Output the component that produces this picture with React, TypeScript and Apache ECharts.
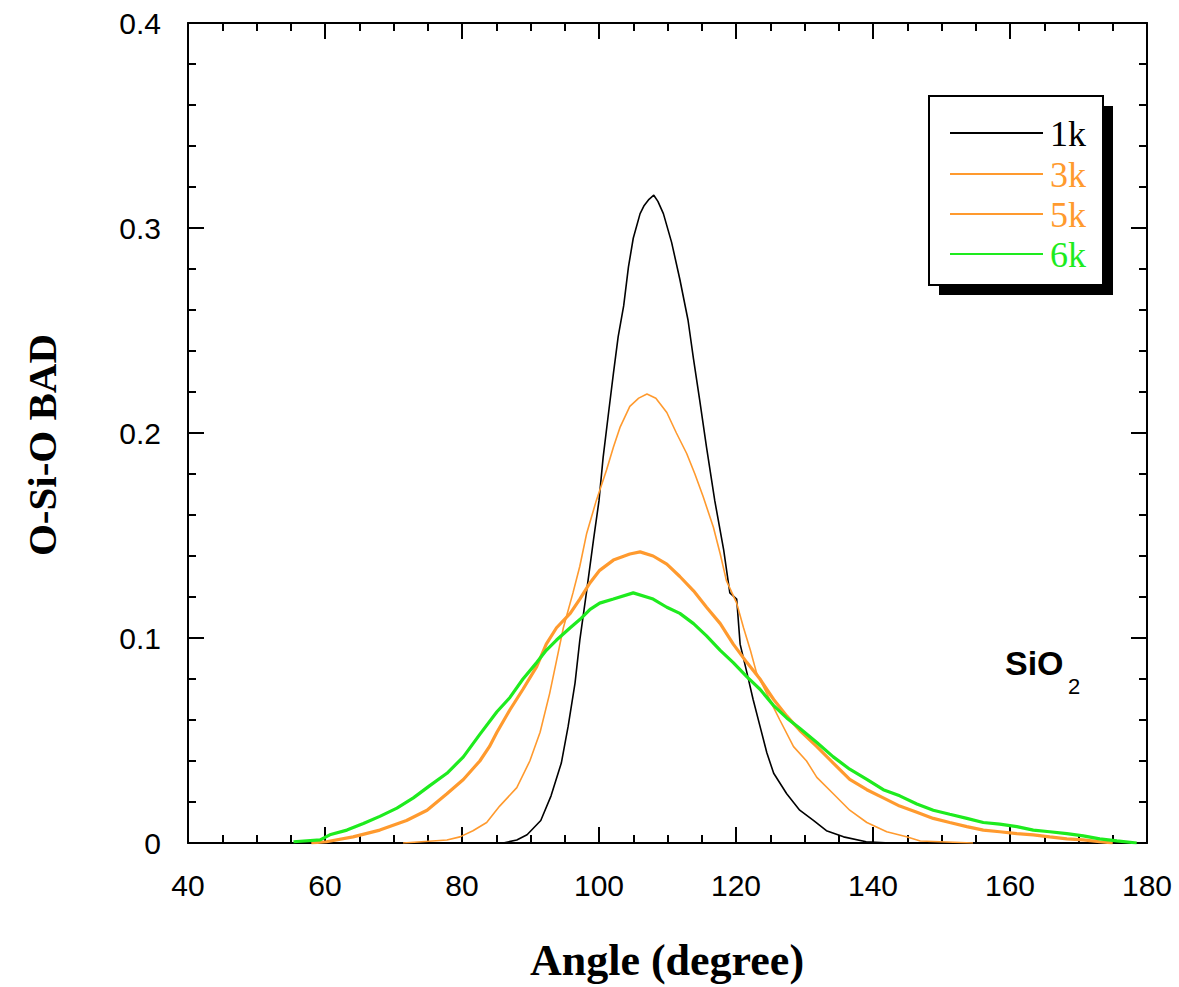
import React, { useEffect, useRef } from "react";
import * as echarts from "echarts";

// ---- data (angle in degrees, BAD value) ----
const angle1k = [86, 88, 89.5, 91.5, 93, 94.5, 95.5, 96.5, 97.2, 98.2, 99.2, 100, 100.6, 101.4, 102.1, 102.8, 103.6, 104.3, 105, 106, 106.6, 107.3, 108, 108.6, 109.4, 110.6, 111.8, 113, 113.8, 114.7, 115.7, 116.9, 118.2, 119.1, 120.1, 120.6, 121.6, 122.5, 123.5, 124.5, 125.5, 127.4, 129.3, 131.3, 133.2, 135.7, 139, 142.5];
const bad1k = [0, 0.0015, 0.004, 0.011, 0.023, 0.039, 0.057, 0.078, 0.099, 0.123, 0.148, 0.167, 0.188, 0.21, 0.229, 0.247, 0.262, 0.281, 0.295, 0.307, 0.311, 0.314, 0.316, 0.313, 0.307, 0.293, 0.275, 0.255, 0.236, 0.216, 0.193, 0.167, 0.143, 0.122, 0.119, 0.097, 0.083, 0.07, 0.057, 0.044, 0.034, 0.024, 0.016, 0.011, 0.006, 0.003, 0.0006, 0];

const angle3k = [71.4, 77.8, 79.7, 81.6, 83.6, 85.5, 88.0, 89.9, 91.4, 92.8, 93.8, 94.8, 96.2, 97.2, 98.2, 99.6, 101.1, 102.1, 103.1, 104.5, 105.8, 107.0, 108.3, 109.9, 111.3, 112.8, 114.0, 115.2, 116.7, 117.7, 118.6, 120.1, 121.1, 122.1, 123.0, 124.5, 125.5, 126.4, 128.4, 130.3, 131.8, 134.2, 136.6, 139.1, 142.0, 144.9, 146.9, 154.6];
const bad3k = [0, 0.0015, 0.003, 0.006, 0.01, 0.018, 0.027, 0.04, 0.054, 0.073, 0.089, 0.105, 0.122, 0.135, 0.151, 0.167, 0.182, 0.193, 0.203, 0.213, 0.217, 0.219, 0.217, 0.21, 0.2, 0.19, 0.18, 0.169, 0.154, 0.141, 0.128, 0.117, 0.105, 0.094, 0.083, 0.073, 0.066, 0.06, 0.047, 0.04, 0.032, 0.024, 0.016, 0.01, 0.0055, 0.003, 0.001, 0];

const angle5k = [58, 60.2, 64.1, 68.0, 71.9, 74.9, 77.8, 80.2, 82.6, 84.0, 85.1, 87.0, 88.9, 90.9, 92.3, 93.8, 95.8, 97.2, 98.7, 100.1, 102.1, 104.5, 106.0, 107.9, 109.9, 111.8, 113.8, 115.7, 117.7, 119.6, 121.6, 123.5, 125.5, 127.4, 129.3, 131.8, 134.2, 136.6, 139.1, 141.5, 143.9, 146.4, 148.8, 151.2, 153.7, 156.1, 158.5, 161.0, 163.4, 165.8, 168.3, 170.7, 173.1, 175];
const bad5k = [0, 0.0006, 0.003, 0.0063, 0.011, 0.016, 0.024, 0.031, 0.04, 0.047, 0.054, 0.065, 0.075, 0.086, 0.097, 0.105, 0.112, 0.119, 0.127, 0.133, 0.138, 0.141, 0.142, 0.14, 0.136, 0.13, 0.123, 0.115, 0.107, 0.097, 0.088, 0.08, 0.07, 0.062, 0.055, 0.047, 0.039, 0.031, 0.026, 0.022, 0.018, 0.015, 0.012, 0.01, 0.008, 0.0063, 0.0055, 0.0046, 0.004, 0.003, 0.002, 0.0015, 0.0006, 0];

const angle6k = [55.4, 59.3, 60.7, 63.2, 65.6, 68.0, 70.5, 72.9, 75.3, 77.8, 80.2, 82.6, 85.1, 87.0, 88.9, 90.9, 92.3, 93.8, 95.8, 97.2, 98.7, 100.1, 102.1, 105.0, 107.9, 109.9, 111.8, 113.8, 115.7, 117.7, 119.6, 121.6, 123.5, 125.5, 127.4, 129.3, 131.8, 134.2, 136.6, 139.1, 141.5, 143.9, 146.4, 148.8, 151.2, 153.7, 156.1, 158.5, 161.0, 163.4, 165.8, 168.3, 170.7, 173.1, 175.6, 178.5];
const bad6k = [0.0006, 0.0015, 0.004, 0.0063, 0.0095, 0.013, 0.017, 0.022, 0.028, 0.034, 0.042, 0.053, 0.064, 0.071, 0.08, 0.088, 0.094, 0.099, 0.105, 0.109, 0.114, 0.117, 0.119, 0.122, 0.119, 0.115, 0.112, 0.107, 0.101, 0.094, 0.088, 0.081, 0.075, 0.067, 0.061, 0.056, 0.049, 0.042, 0.036, 0.031, 0.026, 0.023, 0.019, 0.016, 0.014, 0.012, 0.01, 0.0092, 0.008, 0.0063, 0.0055, 0.0046, 0.0035, 0.002, 0.001, 0];

const seriesNames = ["1k", "3k", "5k", "6k"];
const seriesColors = ["#000000", "#FF9A2E", "#FF9A2E", "#1EEB1E"];
const seriesWidths = [1.6, 1.6, 3.2, 3.2];
const xTicks = [40, 60, 80, 100, 120, 140, 160, 180];
const yTicks = [0, 0.1, 0.2, 0.3, 0.4];

const zip = (xs: number[], ys: number[]) => xs.map((x, i) => [x, ys[i]]);
const allData = [zip(angle1k, bad1k), zip(angle3k, bad3k), zip(angle5k, bad5k), zip(angle6k, bad6k)];

export default function App() {
  const ref = useRef<HTMLDivElement>(null);
  useEffect(() => {
    if (!ref.current) return;
    const chart = echarts.init(ref.current, undefined, { renderer: "svg" });
    const black = "#000";
    const tickFont = { color: black, fontSize: 30, fontFamily: '"Liberation Sans", Arial, sans-serif' };
    const baseX = {
      type: "value",
      min: xTicks[0],
      max: xTicks[xTicks.length - 1],
      interval: 20,
      axisLine: { show: true, onZero: false, lineStyle: { color: black, width: 2 } },
      axisTick: { show: true, inside: true, length: 16, lineStyle: { color: black, width: 2 } },
      minorTick: { show: true, splitNumber: 4, length: 8, lineStyle: { color: black, width: 2 } },
      splitLine: { show: false },
    };
    const baseY = {
      type: "value",
      min: yTicks[0],
      max: yTicks[yTicks.length - 1],
      interval: 0.1,
      axisLine: { show: true, onZero: false, lineStyle: { color: black, width: 2 } },
      axisTick: { show: true, inside: true, length: 16, lineStyle: { color: black, width: 2 } },
      minorTick: { show: true, splitNumber: 5, length: 8, lineStyle: { color: black, width: 2 } },
      splitLine: { show: false },
    };
    const legendX0 = 950, legendX1 = 1043, legendTextX = 1050;
    const legendRows = [133, 174, 214, 254];
    const legendGraphics: any[] = [];
    seriesNames.forEach((n, i) => {
      legendGraphics.push({
        type: "line",
        shape: { x1: legendX0, y1: legendRows[i], x2: legendX1, y2: legendRows[i] },
        style: { stroke: seriesColors[i], lineWidth: 2 },
        z: 12,
      });
      legendGraphics.push({
        type: "text",
        x: legendTextX,
        y: legendRows[i] + 1,
        style: {
          text: n,
          fill: seriesColors[i],
          fontSize: 36,
          fontFamily: '"Liberation Serif", "DejaVu Serif", serif',
          align: "left",
          verticalAlign: "middle",
        },
        z: 12,
      });
    });

    const option: any = {
      animation: false,
      backgroundColor: "#fff",
      grid: { left: 188, right: 32, top: 23, bottom: 144, containLabel: false },
      xAxis: [
        { ...baseX, position: "bottom", axisLabel: { ...tickFont, margin: 27 } },
        { ...baseX, position: "top", axisLabel: { show: false } },
      ],
      yAxis: [
        { ...baseY, position: "left", axisLabel: { ...tickFont, margin: 27 } },
        { ...baseY, position: "right", axisLabel: { show: false } },
      ],
      series: seriesNames.map((n, i) => ({
        name: n,
        type: "line",
        data: allData[i],
        showSymbol: false,
        symbol: "none",
        smooth: false,
        xAxisIndex: 0,
        yAxisIndex: 0,
        lineStyle: { color: seriesColors[i], width: seriesWidths[i] },
        itemStyle: { color: seriesColors[i] },
        z: 2 + i,
      })),
      graphic: [
        {
          type: "text",
          x: 667,
          y: 960,
          style: {
            text: "Angle (degree)",
            fill: black,
            fontSize: 44,
            fontWeight: "bold",
            fontFamily: '"Liberation Serif", "DejaVu Serif", serif',
            align: "center",
            verticalAlign: "middle",
          },
        },
        {
          type: "text",
          x: 42,
          y: 445,
          rotation: Math.PI / 2,
          style: {
            text: "O-Si-O BAD",
            fill: black,
            fontSize: 41,
            fontWeight: "bold",
            fontFamily: '"Liberation Serif", "DejaVu Serif", serif',
            align: "center",
            verticalAlign: "middle",
          },
        },
        {
          type: "text",
          x: 1005,
          y: 663,
          style: {
            text: "SiO",
            fill: black,
            fontSize: 34,
            fontWeight: "bold",
            fontFamily: '"Liberation Sans", Arial, sans-serif',
            align: "left",
            verticalAlign: "middle",
          },
          z: 12,
        },
        {
          type: "text",
          x: 1068,
          y: 686,
          style: {
            text: "2",
            fill: black,
            fontSize: 22,
            fontFamily: '"Liberation Sans", Arial, sans-serif',
            align: "left",
            verticalAlign: "middle",
          },
          z: 12,
        },
        {
          type: "rect",
          shape: { x: 939, y: 106, width: 174, height: 189 },
          style: { fill: black },
          z: 10,
        },
        {
          type: "rect",
          shape: { x: 929, y: 96, width: 174, height: 189 },
          style: { fill: "#fff", stroke: black, lineWidth: 2 },
          z: 11,
        },
        ...legendGraphics,
      ],
    };
    chart.setOption(option);
    return () => chart.dispose();
  }, []);
  return (
    <div
      ref={ref}
      style={{ position: "fixed", left: 0, top: 0, width: 1179, height: 987 }}
    />
  );
}
